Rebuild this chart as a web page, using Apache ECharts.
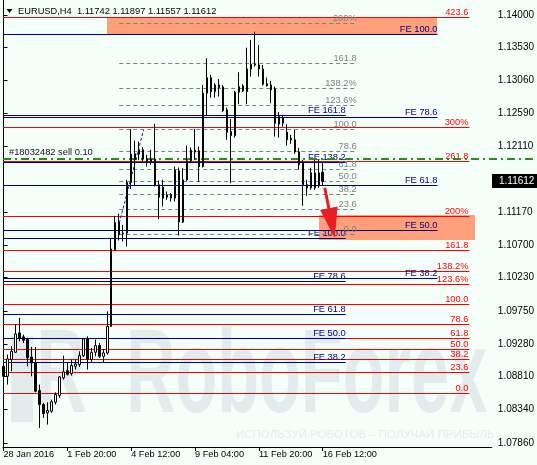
<!DOCTYPE html>
<html>
<head>
<meta charset="utf-8">
<script src="https://cdn.jsdelivr.net/npm/echarts@6/dist/echarts.min.js"></script>
<style>
html,body{margin:0;padding:0;background:#f5fffa;}
#chart{width:537px;height:465px;}
</style>
</head>
<body>
<div id="chart"></div>
<script>
// ---------------- data ----------------
const symbolName = 'EURUSD,H4';
const lastBarOHLC = [1.11742, 1.11897, 1.11557, 1.11612];
const currentPrice = 1.11612;

const timeLabels = ['28 Jan 2016', '1 Feb 20:00', '4 Feb 12:00', '9 Feb 04:00', '11 Feb 20:00', '16 Feb 12:00'];
const timeLabelBars = [0, 16, 32, 48, 64, 80];

const priceTicks = [1.0786, 1.0834, 1.0881, 1.0928, 1.0975, 1.1023, 1.1070, 1.1117, 1.1211, 1.1259, 1.1306, 1.1353, 1.1400];

const opens = [1.08958,1.08815,1.09054,1.09159,1.09437,1.09380,1.09341,1.09093,1.09007,1.08610,
  1.08409,1.08290,1.08313,1.08442,1.08538,1.08792,1.08896,1.08853,1.08958,1.08982,
  1.09111,1.09351,1.09054,1.09159,1.09255,1.09101,1.09150,1.09531,1.10631,1.11022,
  1.10870,1.10870,1.11596,1.12007,1.12003,1.12065,1.11931,1.11883,1.11931,1.11563,
  1.11372,1.11419,1.11419,1.11372,1.11763,1.11028,1.11635,1.11907,1.12060,1.12050,
  1.11825,1.12878,1.13101,1.12900,1.12996,1.12968,1.12638,1.12327,1.12270,1.12892,
  1.12982,1.12900,1.13226,1.13293,1.13283,1.13226,1.13015,1.12996,1.12939,1.12542,
  1.12447,1.12318,1.12232,1.12208,1.12036,1.11878,1.11563,1.11520,1.11520,1.11549,
  1.11742];
const highs = [1.08982,1.09126,1.09245,1.09556,1.09652,1.09412,1.09365,1.09236,1.09236,1.08696,
  1.08433,1.08442,1.08481,1.08585,1.08815,1.09111,1.09007,1.09054,1.09054,1.09173,
  1.09365,1.09388,1.09222,1.09341,1.09293,1.09207,1.09746,1.10799,1.11118,1.11147,
  1.10989,1.11635,1.12362,1.12198,1.12184,1.12103,1.11993,1.12065,1.12437,1.11624,
  1.11635,1.11467,1.11444,1.11825,1.11811,1.11802,1.12126,1.12098,1.12366,1.12112,
  1.12996,1.13379,1.13140,1.13021,1.13083,1.12996,1.12671,1.12509,1.12910,1.13179,
  1.13007,1.13531,1.13642,1.13760,1.13570,1.13283,1.13101,1.13054,1.12972,1.12605,
  1.12566,1.12433,1.12280,1.12351,1.12093,1.11921,1.11635,1.11807,1.11921,1.11921,
  1.11897];
const lows = [1.08792,1.08696,1.08886,1.09150,1.09316,1.09293,1.08958,1.08815,1.08585,1.08075,
  1.08218,1.08122,1.08290,1.08409,1.08505,1.08767,1.08825,1.08825,1.08911,1.08949,
  1.09093,1.08911,1.09007,1.09101,1.09078,1.09007,1.09126,1.09523,1.10621,1.10764,
  1.10750,1.10678,1.11501,1.11548,1.11921,1.11897,1.11825,1.11850,1.11539,1.11071,
  1.11252,1.11348,1.11323,1.11323,1.10836,1.11014,1.11610,1.11874,1.11921,1.11601,
  1.11811,1.12556,1.12814,1.12814,1.12829,1.12605,1.12209,1.11587,1.12241,1.12720,
  1.12892,1.12720,1.13115,1.13259,1.13115,1.12986,1.12972,1.12734,1.12255,1.12241,
  1.12399,1.12126,1.12151,1.12007,1.11778,1.11262,1.11405,1.11491,1.11491,1.11520,
  1.11557];
const closes = [1.08815,1.09064,1.09173,1.09422,1.09365,1.09331,1.09078,1.09007,1.08600,1.08409,
  1.08280,1.08323,1.08448,1.08552,1.08806,1.08878,1.08843,1.08968,1.08992,1.09111,
  1.09351,1.09064,1.09159,1.09255,1.09101,1.09150,1.09531,1.10641,1.11022,1.10846,
  1.10860,1.11596,1.12003,1.11931,1.12065,1.11931,1.11883,1.11931,1.11563,1.11386,
  1.11530,1.11386,1.11372,1.11778,1.11028,1.11635,1.11907,1.12060,1.12032,1.11825,
  1.12878,1.13101,1.12900,1.12996,1.12958,1.12628,1.12318,1.12270,1.12892,1.12972,
  1.12910,1.13226,1.13293,1.13283,1.13226,1.13007,1.12986,1.12925,1.12447,1.12433,
  1.12528,1.12208,1.12208,1.12036,1.11850,1.11563,1.11520,1.11735,1.11735,1.11735,
  1.11612];

// Fibonacci retracement (grey dashed)
const fiboLabels = ['0.0', '23.6', '38.2', '50.0', '61.8', '78.6', '100.0', '123.6%', '138.2%', '161.8', '200%'];
const fiboPrices = [1.10846, 1.11204, 1.11425, 1.11604, 1.11783, 1.12038, 1.12362, 1.12704, 1.12941, 1.13299, 1.13878];
// Fibonacci levels (red solid)
const expLabels = ['0.0', '23.6', '38.2', '50.0', '61.8', '78.6', '100.0', '123.6%', '138.2%', '161.8', '200%', '261.8', '300%', '423.6'];
const expPrices = [1.08562, 1.08863, 1.09049, 1.09200, 1.09351, 1.09565, 1.09838, 1.10139, 1.10325, 1.10627, 1.11114, 1.11903, 1.12390, 1.13967];
// Fibonacci expansions (navy)
const feLongLabels = ['FE 100.0', 'FE 78.6', 'FE 61.8', 'FE 50.0', 'FE 38.2'];
const feLongPrices = [1.13723, 1.12526, 1.11553, 1.10903, 1.10225];
const feShortLabels = ['FE 161.8', 'FE 138.2', 'FE 100.0', 'FE 78.6', 'FE 61.8', 'FE 50.0', 'FE 38.2'];
const feShortPrices = [1.12552, 1.11883, 1.10799, 1.10177, 1.09695, 1.09359, 1.09018];

const orderLabel = '#18032482 sell 0.10';
const orderPrice = 1.11928;

const zoneTopPrices = [1.13967, 1.13709];
const zoneBottomPrices = [1.11133, 1.10774];
const trendPrices = [1.11014, 1.12351];
const arrowPrices = [1.11520, 1.10803];

// ---------------- layout (positions in bar units) ----------------
const LAYOUT = {
  xMin: -0.125, xMax: 122.375, yMin: 1.07800, yMax: 1.14215,
  lineStart: -0.125, expEnd: 116.75, feLongEnd: 108.75, feShortEnd: 85.75,
  fiboStart: 29, fiboEnd: 88.5, orderEnd: 133.5,
  zoneTop: [26, 108.75], zoneBottom: [79, 118],
  trend: [29, 35.1], arrow: [80.5, 83]
};
const FONT = '9.3px "Liberation Sans", Arial, sans-serif';

const candles = opens.map((o, i) => [i, o, closes[i], lows[i], highs[i]]);

const groups = [
  {labels: expLabels, prices: expPrices, x0: LAYOUT.lineStart, x1: LAYOUT.expEnd, color: '#ff0000', text: '#ff0000', dash: null, off: -1},
  {labels: feLongLabels, prices: feLongPrices, x0: LAYOUT.lineStart, x1: LAYOUT.feLongEnd, color: '#000080', text: '#000080', dash: null, off: 0},
  {labels: feShortLabels, prices: feShortPrices, x0: LAYOUT.lineStart, x1: LAYOUT.feShortEnd, color: '#000080', text: '#000080', dash: null, off: 0},
  {labels: fiboLabels, prices: fiboPrices, x0: LAYOUT.fiboStart, x1: LAYOUT.fiboEnd, color: '#808080', text: '#808080', dash: [4, 3], off: 0}
];
const levelData = [];
groups.forEach((g, gi) => g.prices.forEach((p, i) => levelData.push([g.x0, g.x1, p, gi, i])));

function txt(x, y, text, color, align, valign, font) {
  return {type: 'text', silent: true, style: {
    text: text, x: x, y: y, fill: color, textFill: color, font: font || FONT,
    align: align, textAlign: align, verticalAlign: valign, textVerticalAlign: valign
  }};
}
function crisp(y) { return Math.round(y - 0.5) + 0.5; }

function renderLevel(params, api) {
  const g = groups[api.value(3)];
  const i = api.value(4);
  const a = api.coord([api.value(0), api.value(2)]);
  const b = api.coord([api.value(1), api.value(2)]);
  const y = crisp(a[1]);
  return {type: 'group', children: [
    {type: 'line', silent: true, shape: {x1: a[0], y1: y, x2: b[0], y2: y},
     style: {stroke: g.color, lineWidth: 1, lineDash: g.dash}},
    txt(b[0] + g.off, y - 0.5, g.labels[i], g.text, 'right', 'bottom')
  ]};
}
function renderZone(params, api) {
  const a = api.coord([api.value(0), api.value(2)]);
  const b = api.coord([api.value(1), api.value(3)]);
  return {type: 'rect', silent: true,
    shape: {x: Math.round(a[0]), y: Math.round(a[1]), width: Math.round(b[0] - a[0]), height: Math.round(b[1] - a[1])},
    style: {fill: '#ffa07a'}};
}
function renderOrder(params, api) {
  const a = api.coord([api.value(0), api.value(2)]);
  const b = api.coord([api.value(1), api.value(2)]);
  const y = Math.round(a[1]);
  return {type: 'group', children: [
    {type: 'line', silent: true, shape: {x1: a[0], y1: y, x2: b[0], y2: y},
     style: {stroke: '#2f8a1e', lineWidth: 2, lineDash: [8, 4, 2, 4]}},
    txt(a[0] + 6, y - 2, orderLabel, '#111', 'left', 'bottom')
  ]};
}
function renderTrend(params, api) {
  const a = api.coord([api.value(0), api.value(2)]);
  const b = api.coord([api.value(1), api.value(3)]);
  return {type: 'line', silent: true, shape: {x1: a[0], y1: a[1], x2: b[0], y2: b[1]},
    style: {stroke: '#1c1ca0', lineWidth: 1, lineDash: [3, 2]}};
}
function renderArrow(params, api) {
  const a = api.coord([api.value(0), api.value(2)]);
  const b = api.coord([api.value(1), api.value(3)]);
  const dx = b[0] - a[0], dy = b[1] - a[1];
  const len = Math.sqrt(dx * dx + dy * dy), ux = dx / len, uy = dy / len;
  const headLen = 30, headW = 9;
  const base = [b[0] - ux * headLen, b[1] - uy * headLen];
  const px = -uy, py = ux;
  return {type: 'group', children: [
    {type: 'line', silent: true, shape: {x1: a[0], y1: a[1], x2: base[0] + ux * 2, y2: base[1] + uy * 2},
     style: {stroke: '#ea1c24', lineWidth: 3}},
    {type: 'polygon', silent: true,
     shape: {points: [[b[0], b[1]], [base[0] + px * headW, base[1] + py * headW], [base[0] - px * headW, base[1] - py * headW]]},
     style: {fill: '#ea1c24'}}
  ]};
}
function renderPriceBox(params, api) {
  const p = api.coord([api.value(0), api.value(1)]);
  const y = Math.round(p[1]);
  const x = Math.round(p[0]);
  return {type: 'group', children: [
    {type: 'rect', silent: true, shape: {x: x, y: y - 7, width: 537 - x, height: 14}, style: {fill: '#000'}},
    txt(x + 7, y, currentPrice.toFixed(5), '#fff', 'left', 'middle', '10px "Liberation Sans", Arial, sans-serif')
  ]};
}

const chart = echarts.init(document.getElementById('chart'), null, {renderer: 'canvas'});
const WM = '#e3ecec';
const WMFONT = 'bold 118px "Liberation Sans", Arial, sans-serif';
chart.setOption({
  backgroundColor: '#f5fffa',
  animation: false,
  textStyle: {fontFamily: '"Liberation Sans", Arial, sans-serif'},
  grid: {left: 3, right: 44, top: 0, bottom: 18, containLabel: false},
  xAxis: {
    type: 'value', min: LAYOUT.xMin, max: LAYOUT.xMax,
    axisLine: {show: true, onZero: false, lineStyle: {color: '#000', width: 1}},
    axisTick: {show: true, customValues: timeLabelBars, length: 4, lineStyle: {color: '#000'}},
    axisLabel: {show: true, customValues: timeLabelBars, align: 'left', margin: 3,
      color: '#000', fontSize: 9.2, fontFamily: '"Liberation Sans", Arial, sans-serif',
      formatter: v => timeLabels[timeLabelBars.indexOf(v)] || ''},
    splitLine: {show: false}
  },
  yAxis: [{
    type: 'value', position: 'right', min: LAYOUT.yMin, max: LAYOUT.yMax, scale: true,
    axisLine: {show: true, lineStyle: {color: '#000', width: 1}},
    axisTick: {show: true, customValues: priceTicks, length: 4, lineStyle: {color: '#000'}},
    axisLabel: {show: true, customValues: priceTicks, margin: 6, color: '#000', fontSize: 10,
      fontFamily: '"Liberation Sans", Arial, sans-serif', formatter: v => v.toFixed(5)},
    splitLine: {show: false}
  }, {
    type: 'value', position: 'left', min: LAYOUT.yMin, max: LAYOUT.yMax, scale: true,
    axisLine: {show: true, lineStyle: {color: '#000', width: 1}},
    axisTick: {show: false}, axisLabel: {show: false}, splitLine: {show: false}
  }],
  graphic: [
    {type: 'rect', z: 0, silent: true, shape: {x: 11, y: 336, width: 22, height: 86}, style: {fill: WM}},
    {type: 'text', z: 0, silent: true, x: 36, y: 379, scaleX: 0.6,
     style: {text: 'R', font: WMFONT, fill: WM, verticalAlign: 'middle', textVerticalAlign: 'middle'}},
    {type: 'text', z: 0, silent: true, x: 126, y: 379, scaleX: 0.58,
     style: {text: 'RoboForex', font: WMFONT, fill: WM, verticalAlign: 'middle', textVerticalAlign: 'middle'}},
    {type: 'text', z: 0, silent: true, x: 236, y: 435,
     style: {text: 'ИСПОЛЬЗУЙ РОБОТОВ – ПОЛУЧАЙ ПРИБЫЛЬ', font: '11.5px "Liberation Sans", Arial, sans-serif', fill: WM, verticalAlign: 'middle', textVerticalAlign: 'middle'}},
    {type: 'polygon', z: 100, silent: true, shape: {points: [[6.5, 9], [12.5, 9], [9.5, 13]]}, style: {fill: '#000'}},
    {type: 'text', z: 100, silent: true, x: 18, y: 11,
     style: {text: symbolName + '  ' + lastBarOHLC.map(v => v.toFixed(5)).join(' '), font: FONT, fill: '#000',
       verticalAlign: 'middle', textVerticalAlign: 'middle'}}
  ],
  series: [
    {type: 'custom', name: 'zones', z: 1, clip: false, silent: true, renderItem: renderZone,
     encode: {x: [0, 1], y: [2, 3]},
     data: [[LAYOUT.zoneTop[0], LAYOUT.zoneTop[1], zoneTopPrices[0], zoneTopPrices[1]],
            [LAYOUT.zoneBottom[0], LAYOUT.zoneBottom[1], zoneBottomPrices[0], zoneBottomPrices[1]]]},
    {type: 'custom', name: 'levels', z: 2, clip: false, silent: true, renderItem: renderLevel,
     encode: {x: [0, 1], y: 2}, data: levelData},
    {type: 'custom', name: 'order', z: 3, clip: false, silent: true, renderItem: renderOrder,
     encode: {x: [0, 1], y: 2}, data: [[LAYOUT.lineStart, LAYOUT.orderEnd, orderPrice]]},
    {type: 'custom', name: 'trend', z: 3, clip: false, silent: true, renderItem: renderTrend,
     encode: {x: [0, 1], y: [2, 3]}, data: [[LAYOUT.trend[0], LAYOUT.trend[1], trendPrices[0], trendPrices[1]]]},
    {type: 'candlestick', name: symbolName, z: 5, clip: false, silent: true, barWidth: 2,
     encode: {x: 0, y: [1, 2, 3, 4]}, data: candles,
     itemStyle: {color: '#ffffff', color0: '#000000', borderColor: '#000000', borderColor0: '#000000', borderWidth: 1}},
    {type: 'custom', name: 'arrow', z: 6, clip: false, silent: true, renderItem: renderArrow,
     encode: {x: [0, 1], y: [2, 3]}, data: [[LAYOUT.arrow[0], LAYOUT.arrow[1], arrowPrices[0], arrowPrices[1]]]},
    {type: 'custom', name: 'price', z: 10, clip: false, silent: true, renderItem: renderPriceBox,
     encode: {x: 0, y: 1}, data: [[LAYOUT.xMax, currentPrice]]}
  ]
});
</script>
</body>
</html>
